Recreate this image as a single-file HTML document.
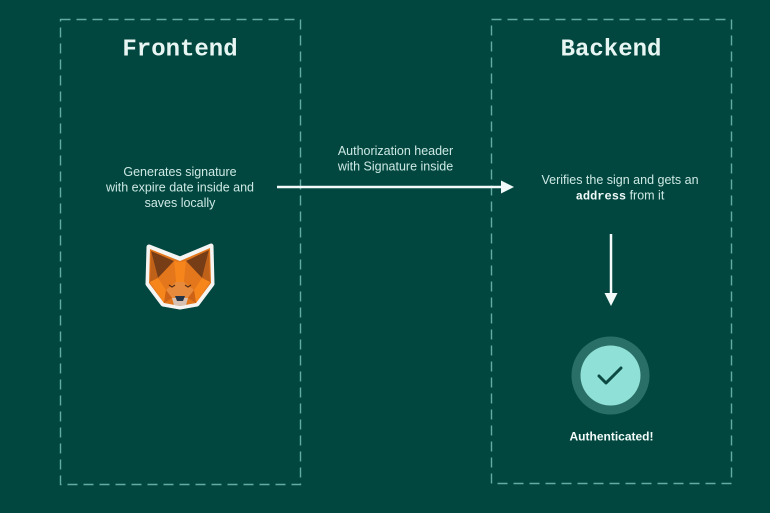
<!DOCTYPE html>
<html>
<head>
<meta charset="utf-8">
<style>
  html, body { margin:0; padding:0; background:#02473f; }
  body { width:770px; height:513px; overflow:hidden; }
  svg { display:block; }
</style>
</head>
<body>
<svg width="770" height="513" viewBox="0 0 770 513" xmlns="http://www.w3.org/2000/svg">
  <rect x="0" y="0" width="770" height="513" fill="#02473f"/>

  <!-- Dashed boxes -->
  <rect x="60.5" y="19.5" width="240" height="465" fill="none" stroke="#62ada3" stroke-width="1.4" stroke-dasharray="10 6"/>
  <rect x="491.5" y="19.5" width="240" height="464" fill="none" stroke="#62ada3" stroke-width="1.4" stroke-dasharray="10 6"/>

  <!-- Titles -->
  <text x="180" y="55.5" text-anchor="middle" font-family="Liberation Mono, monospace" font-weight="bold" font-size="24" fill="#e8f6f3">Frontend</text>
  <text x="611" y="55.5" text-anchor="middle" font-family="Liberation Mono, monospace" font-weight="bold" font-size="24" fill="#e8f6f3">Backend</text>

  <!-- Frontend text -->
  <g font-family="Liberation Sans, sans-serif" font-size="12.5" fill="#cde9e4" text-anchor="middle">
    <text x="180" y="176">Generates signature</text>
    <text x="180" y="191.5">with expire date inside and</text>
    <text x="180" y="207">saves locally</text>
  </g>

  <!-- Middle text -->
  <g font-family="Liberation Sans, sans-serif" font-size="12.5" fill="#cde9e4" text-anchor="middle">
    <text x="395.5" y="155">Authorization header</text>
    <text x="395.5" y="170.5">with Signature inside</text>
  </g>

  <!-- Horizontal arrow -->
  <line x1="277" y1="187" x2="503" y2="187" stroke="#f2fbf9" stroke-width="2.5"/>
  <polygon points="501,180.5 514,187 501,193.5" fill="#f2fbf9"/>

  <!-- Backend text -->
  <g font-family="Liberation Sans, sans-serif" font-size="12.5" fill="#cde9e4" text-anchor="middle">
    <text x="620" y="184">Verifies the sign and gets an</text>
    <text x="620" y="199.5"><tspan font-family="Liberation Mono, monospace" font-weight="bold" font-size="12" fill="#f2fbf9">address</tspan> from it</text>
  </g>

  <!-- Down arrow -->
  <line x1="611" y1="234" x2="611" y2="295" stroke="#f2fbf9" stroke-width="2.5"/>
  <polygon points="604.5,293 617.5,293 611,306" fill="#f2fbf9"/>

  <!-- Check circle -->
  <circle cx="610.5" cy="375.5" r="39" fill="#2a6f67"/>
  <circle cx="610.5" cy="375.5" r="30" fill="#8fe0d6"/>
  <polyline points="599,376 606,383 621,368" fill="none" stroke="#0d4943" stroke-width="3" stroke-linecap="round" stroke-linejoin="round"/>

  <text x="611.5" y="440.5" text-anchor="middle" font-family="Liberation Sans, sans-serif" font-weight="bold" font-size="12" fill="#f2fbf9">Authenticated!</text>

  <!-- Fox -->
  <g>
    <!-- white outline -->
    <polygon points="149,247 180,259 211,246 212,284 197,304 180,307 163,304 148,284" fill="#f4f4f2" stroke="#f4f4f2" stroke-width="5" stroke-linejoin="round"/>
    <!-- base head -->
    <polygon points="150,249 180,261 210,248 211,283 196,303 180,306 164,303 149,283" fill="#e2761b"/>
    <!-- ears dark -->
    <polygon points="151,251 174,261 158,278" fill="#763d16"/>
    <polygon points="209,250 186,261 202,278" fill="#763d16"/>
    <polygon points="151,251 158,278 150,282" fill="#c0611a"/>
    <polygon points="209,250 202,278 210,282" fill="#c0611a"/>
    <!-- forehead -->
    <polygon points="174,261 180,262 186,261 184,282 176,282" fill="#f6851b"/>
    <polygon points="158,278 174,261 176,282 166,290" fill="#e4761b"/>
    <polygon points="202,278 186,261 184,282 194,290" fill="#e4761b"/>
    <!-- cheeks -->
    <polygon points="150,282 158,278 166,290 164,303" fill="#f6851b"/>
    <polygon points="210,282 202,278 194,290 196,303" fill="#f6851b"/>
    <polygon points="166,290 176,282 184,282 194,290 188,298 172,298" fill="#e88a3c"/>
    <polygon points="164,303 166,290 172,298" fill="#cd6116"/>
    <polygon points="196,303 194,290 188,298" fill="#cd6116"/>
    <!-- eyes -->
    <polyline points="169,285 172,287 175,285" fill="none" stroke="#5a2c0e" stroke-width="1.2"/>
    <polyline points="185,285 188,287 191,285" fill="none" stroke="#5a2c0e" stroke-width="1.2"/>
    <!-- chin -->
    <polygon points="172,298 188,298 186,305 180,306 174,305" fill="#d7c1b3"/>
    <!-- nose -->
    <polygon points="175,296 185,296 183,301 177,301" fill="#233447"/>
  </g>
</svg>
</body>
</html>
